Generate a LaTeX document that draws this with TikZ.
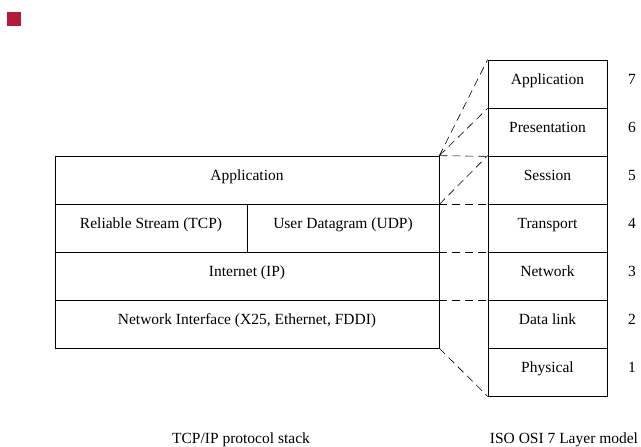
\documentclass[tikz,border=0pt]{standalone}
\usepackage{fontspec}
\setmainfont{Liberation Serif}
\definecolor{bulletred}{RGB}{178,26,58}
\begin{document}
\begin{tikzpicture}[x=1pt,y=-1pt,
  font=\fontsize{15.5}{18}\selectfont,
  layer/.style={draw, line width=0.7pt, minimum height=48pt, inner sep=0pt,
    text height=12pt, text depth=12pt},
  wide/.style={layer, minimum width=384pt},
  half/.style={layer, minimum width=192pt},
  osi/.style={layer, minimum width=119pt},
  num/.style={inner sep=0pt, text height=12pt, text depth=12pt},
  link/.style={dashed, dash pattern=on 8pt off 5pt, line width=0.6pt},
  caption/.style={inner sep=0pt, anchor=base}]
\useasboundingbox (0,0) rectangle (641,447);
\node[fill=bulletred, minimum size=14pt, inner sep=0pt] (bullet) at (14,19) {};
% TCP/IP stack
\node[wide] (app) at (247,180) {Application};
\node[half] (tcp) at (151,228) {Reliable Stream (TCP)};
\node[half] (udp) at (343,228) {User Datagram (UDP)};
\node[wide] (ip) at (247,276) {Internet (IP)};
\node[wide] (ni) at (247,324) {Network Interface (X25, Ethernet, FDDI)};
% OSI stack
\node[osi] (o7) at (547.5,84) {Application};
\node[osi] (o6) at (547.5,132) {Presentation};
\node[osi] (o5) at (547.5,180) {Session};
\node[osi] (o4) at (547.5,228) {Transport};
\node[osi] (o3) at (547.5,276) {Network};
\node[osi] (o2) at (547.5,324) {Data link};
\node[osi] (o1) at (547.5,372) {Physical};
\node[num] (n7) at (632,84) {7};
\node[num] (n6) at (632,132) {6};
\node[num] (n5) at (632,180) {5};
\node[num] (n4) at (632,228) {4};
\node[num] (n3) at (632,276) {3};
\node[num] (n2) at (632,324) {2};
\node[num] (n1) at (632,372) {1};
% mapping
\draw[link] (app.north east) -- (o7.north west);
\draw[link] (app.north east) -- (o7.south west);
\draw[link] (app.north east) -- (o6.south west);
\draw[link] (app.south east) -- (o5.north west);
\draw[link] (app.south east) -- (o5.south west);
\draw[link] (udp.south east) -- (o4.south west);
\draw[link] (ip.south east) -- (o3.south west);
\draw[link] (ni.south east) -- (o1.south west);
% captions
\node[caption] (cap1) at (241,443) {TCP/IP protocol stack};
\node[caption] (cap2) at (564,443) {ISO OSI 7 Layer model};
\end{tikzpicture}
\end{document}
